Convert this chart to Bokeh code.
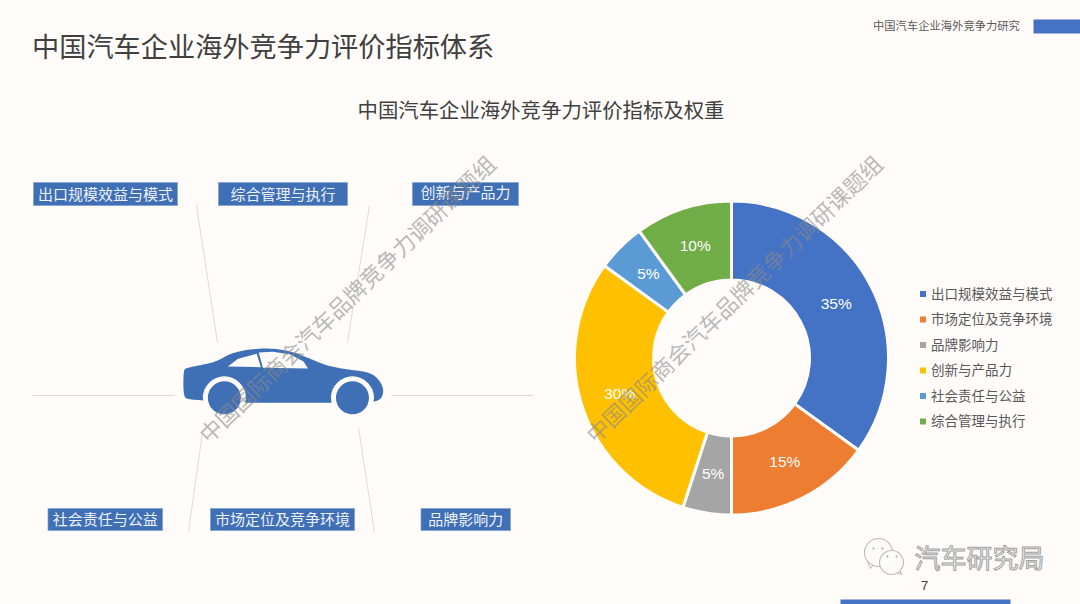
from math import pi, sin, cos
from bokeh.plotting import figure
from bokeh.models import Range1d
from bokeh.core.properties import value
from bokeh.embed import file_html
from bokeh.resources import INLINE

categories = ["出口规模效益与模式", "市场定位及竞争环境", "品牌影响力", "创新与产品力", "社会责任与公益", "综合管理与执行"]
shares = [35, 15, 5, 30, 5, 10]
colors = ["#4472C4", "#ED7D31", "#A5A5A5", "#FFC000", "#5B9BD5", "#70AD47"]
title_text = "中国汽车企业海外竞争力评价指标体系"
subtitle_text = "中国汽车企业海外竞争力评价指标及权重"
header_text = "中国汽车企业海外竞争力研究"
watermark_text = "中国国际商会汽车品牌竞争力调研课题组"
brand_text = "汽车研究局"
page_number = "7"

BG = "#FFFCF9"
BLUE = "#3F6FB5"
CJK = value("Noto Sans CJK SC")
H = 604
def Y(py):
    return H - py

p = figure(width=1080, height=604, output_backend="svg", toolbar_location=None,
           x_range=Range1d(0, 1080), y_range=Range1d(0, 604),
           background_fill_color=BG, border_fill_color=BG, min_border=0, outline_line_color=None)
p.axis.visible = False
p.grid.visible = False

def label(x, y, s, size, color, align="left", angle=0.0, alpha=1.0):
    p.text([x], [Y(y - 1.5)], text=[s], text_font=CJK, text_font_size=f"{size}px", text_color=color,
           text_align=align, text_baseline="middle", angle=angle, text_alpha=alpha)

# header
label(31.5, 46, title_text, 27.2, "#404040")
label(540.5, 110, subtitle_text, 20.4, "#404040", align="center")
label(872.5, 26, header_text, 11.3, "#595959")
p.quad(left=[1033, 840], right=[1080, 1010], top=[Y(19), Y(599)], bottom=[Y(33), Y(604)], fill_color="#4472C4", line_color=None)
p.text([924], [Y(585)], text=[page_number], text_font=value("Liberation Sans"), text_font_size="13px",
       text_color="#404040", text_align="center", text_baseline="middle")

# spokes
spokes = [((196, 205), (217, 342)), ((369, 205), (347, 342)), ((32, 395), (174, 395)), ((391, 395), (533, 395)),
          ((358, 427), (374, 532)), ((202, 432), (188, 531))]
for a, b in spokes:
    p.line([a[0], b[0]], [Y(a[1]), Y(b[1])], line_color="#DEDBD7", line_width=1)

# car
zx = lambda v: v * 540 / 1568
zy = lambda v: 150 + v / 3

def smooth(pts, n=3):
    for _ in range(n):
        out = []
        for i, a in enumerate(pts):
            b = pts[(i + 1) % len(pts)]
            out.append((0.75 * a[0] + 0.25 * b[0], 0.75 * a[1] + 0.25 * b[1]))
            out.append((0.25 * a[0] + 0.75 * b[0], 0.25 * a[1] + 0.75 * b[1]))
        pts = out
    return pts

body = [(531, 660), (540, 652), (590, 642), (630, 632), (665, 610), (720, 596), (790, 593), (850, 604), (900, 625),
        (945, 645), (1000, 656), (1060, 663), (1092, 678), (1112, 710), (1110, 738), (1095, 752), (1060, 757),
        (600, 757), (590, 749), (545, 747), (531, 738)]
win1 = [(660, 648), (690, 625), (744, 610), (756, 650)]
win2 = [(750, 606), (790, 604), (840, 611), (880, 633), (893, 654), (762, 652)]
body_s = smooth(body)
p.patch([zx(a) for a, b in body_s], [Y(zy(b)) for a, b in body_s], fill_color=BLUE, line_color=None)
for w in (win1, win2):
    p.patch([zx(a) for a, b in w], [Y(zy(b)) for a, b in w], fill_color=BG, line_color=None)
for cx in (650, 1022):
    p.circle([zx(cx)], [Y(zy(742))], radius=21.5, fill_color=BG, line_color=None)
    p.circle([zx(cx)], [Y(zy(742))], radius=16.5, fill_color=BLUE, line_color=None)

# label boxes
boxes = [("出口规模效益与模式", 33, 177, 182, 205, 194), ("综合管理与执行", 218, 347, 182, 205, 194),
         ("创新与产品力", 412, 518, 182, 205, 192), ("社会责任与公益", 47.5, 162, 508, 530, 519),
         ("市场定位及竞争环境", 210, 354, 508, 530, 519), ("品牌影响力", 420.5, 510, 508, 530, 519)]
for s, l, r, t, b, ty in boxes:
    p.quad(left=[l], right=[r], top=[Y(t)], bottom=[Y(b)], fill_color=BLUE, line_color="#7F9FD0", line_width=0.7)
    label((l + r) / 2, ty, s, 15, "#EEF2F9", align="center")

# donut
CX, CY, RO, RI = 731, 357.5, 157, 78
total = sum(shares)
start = 0.0
for v, c in zip(shares, colors):
    end = start + v / total * 2 * pi
    p.annular_wedge([CX], [Y(CY)], inner_radius=RI, outer_radius=RO, start_angle=pi / 2 - end, end_angle=pi / 2 - start,
                    fill_color=c, line_color=BG, line_width=3)
    mid = (start + end) / 2
    rm = (RO + RI) / 2
    p.text([CX + rm * sin(mid)], [Y(CY) + rm * cos(mid) + 1], text=[f"{v}%"], text_font=value("Liberation Sans"),
           text_font_size="15.5px", text_color="#FFFFFF", text_align="center", text_baseline="middle")
    start = end

# legend
legend_y = [293.5, 319, 344.5, 370, 395.5, 421]
for s, c, ly in zip(categories, colors, legend_y):
    p.quad(left=[919.5], right=[925.5], top=[Y(ly - 3)], bottom=[Y(ly + 3)], fill_color=c, line_color=None)
    label(930.5, ly, s, 13.5, "#595959")

# watermarks
for wx, wy in ((346, 299), (733, 299)):
    label(wx, wy, watermark_text, 22.3, "#8A8A8A", align="center", angle=pi * 44 / 180, alpha=0.6)

# wechat mark
for (tx, ty, tail) in ((870, 564, 0), (898, 572, 1)):
    p.line([tx - 3, tx, tx + 4] if tail == 0 else [tx - 4, tx + 3, tx + 1],
           [Y(ty - 3), Y(ty + 4), Y(ty - 1)] if tail == 0 else [Y(ty - 1), Y(ty + 2), Y(ty - 3)],
           line_color="#B5B3B0", line_width=1)
for (bx, by, br) in ((878, 552, 14), (891, 562, 12)):
    p.circle([bx], [Y(by)], radius=br, fill_color="#FDFBF9", line_color="#BDBBB8", line_width=1.1)
for ex, ey in ((873, 548), (882, 548), (887, 556), (896, 556)):
    p.circle([ex], [Y(ey)], radius=1, fill_color="#A8A6A3", line_color=None)
p.text([914], [Y(556)], text=[brand_text], text_font=CJK, text_font_size="26px", text_color="#F4F3F1",
       text_outline_color="#A3A3A3", text_align="left", text_baseline="middle")

html = file_html(p, INLINE)
html = html.replace("<head>", "<head><style>html,body{margin:0;padding:0;overflow:hidden;background:#FFFCF9}</style>", 1)
open("out.html", "w").write(html)
